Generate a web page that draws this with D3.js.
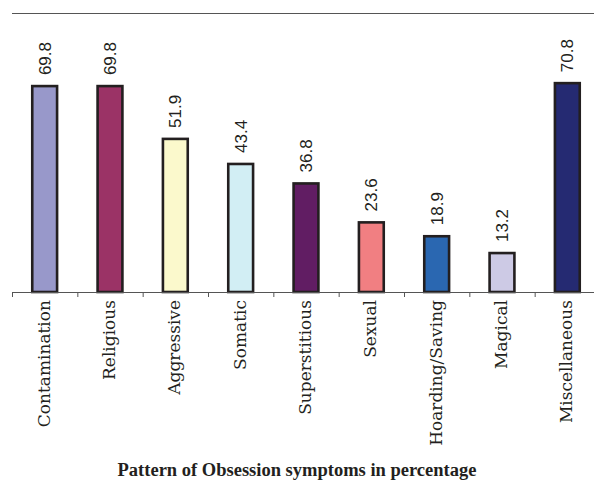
<!DOCTYPE html>
<html>
<head>
<meta charset="utf-8">
<script src="https://cdn.jsdelivr.net/npm/d3@7"></script>
<style>
  html, body { margin: 0; padding: 0; background: #fff; }
  svg { display: block; }
</style>
</head>
<body>
<svg id="chart" width="594" height="481"></svg>
<script>
const categories = ["Contamination", "Religious", "Aggressive", "Somatic", "Superstitious", "Sexual", "Hoarding/Saving", "Magical", "Miscellaneous"];
const values = [69.8, 69.8, 51.9, 43.4, 36.8, 23.6, 18.9, 13.2, 70.8];
const valueLabels = ["69.8", "69.8", "51.9", "43.4", "36.8", "23.6", "18.9", "13.2", "70.8"];
const colors = ["#9898ca", "#9b3366", "#fbf9cc", "#d2eef4", "#611d63", "#f17f82", "#2a67b1", "#cdcae5", "#252a72"];
const title = "Pattern of Obsession symptoms in percentage";

const svg = d3.select("#chart");
const W = 594, H = 481;
const left = 12, right = 600, baseY = 292;

const x = d3.scaleBand().domain(categories).range([left, right]).paddingInner(0.62).paddingOuter(0.31);
const y = d3.scaleLinear().domain([0, 100]).range([baseY, -3]);
const tickScale = d3.scaleLinear().domain([0, categories.length]).range([left, right]);

// top rule
svg.append("line")
  .attr("x1", left).attr("x2", W)
  .attr("y1", 13.5).attr("y2", 13.5)
  .attr("stroke", "#555").attr("stroke-width", 1);

// bars
svg.append("g").selectAll("rect")
  .data(categories)
  .join("rect")
  .attr("x", d => x(d))
  .attr("width", x.bandwidth())
  .attr("y", (d, i) => y(values[i]))
  .attr("height", (d, i) => baseY - y(values[i]))
  .attr("fill", (d, i) => colors[i])
  .attr("stroke", "#231f20")
  .attr("stroke-width", 2.6);

// axis
const axis = svg.append("g")
  .attr("transform", `translate(0,${baseY})`)
  .call(d3.axisBottom(tickScale)
    .tickValues(d3.range(0, categories.length + 1))
    .tickSize(5)
    .tickSizeOuter(0)
    .tickFormat(""));
axis.select(".domain").attr("stroke", "#555");
axis.selectAll(".tick line").attr("stroke", "#555");

// value labels
svg.append("g").selectAll("text")
  .data(categories)
  .join("text")
  .attr("transform", (d, i) => `translate(${x(d) + x.bandwidth() / 2},${y(values[i]) - 11}) rotate(-90)`)
  .attr("dy", "0.35em")
  .attr("text-anchor", "start")
  .attr("font-family", "'Liberation Sans', Arial, sans-serif")
  .attr("font-size", 17)
  .attr("fill", "#231f20")
  .text((d, i) => valueLabels[i]);

// category labels
svg.append("g").selectAll("text")
  .data(categories)
  .join("text")
  .attr("transform", d => `translate(${x(d) + x.bandwidth() / 2},${baseY + 8}) rotate(-90)`)
  .attr("dy", "0.3em")
  .attr("text-anchor", "end")
  .attr("font-family", "'DejaVu Serif', serif")
  .attr("font-size", 17)
  .attr("fill", "#231f20")
  .text(d => d);

// title
svg.append("text")
  .attr("x", W / 2)
  .attr("y", 476)
  .attr("text-anchor", "middle")
  .attr("font-family", "'Liberation Serif', 'Times New Roman', serif")
  .attr("font-weight", "bold")
  .attr("font-size", 18.5)
  .attr("fill", "#231f20")
  .text(title);
</script>
</body>
</html>
